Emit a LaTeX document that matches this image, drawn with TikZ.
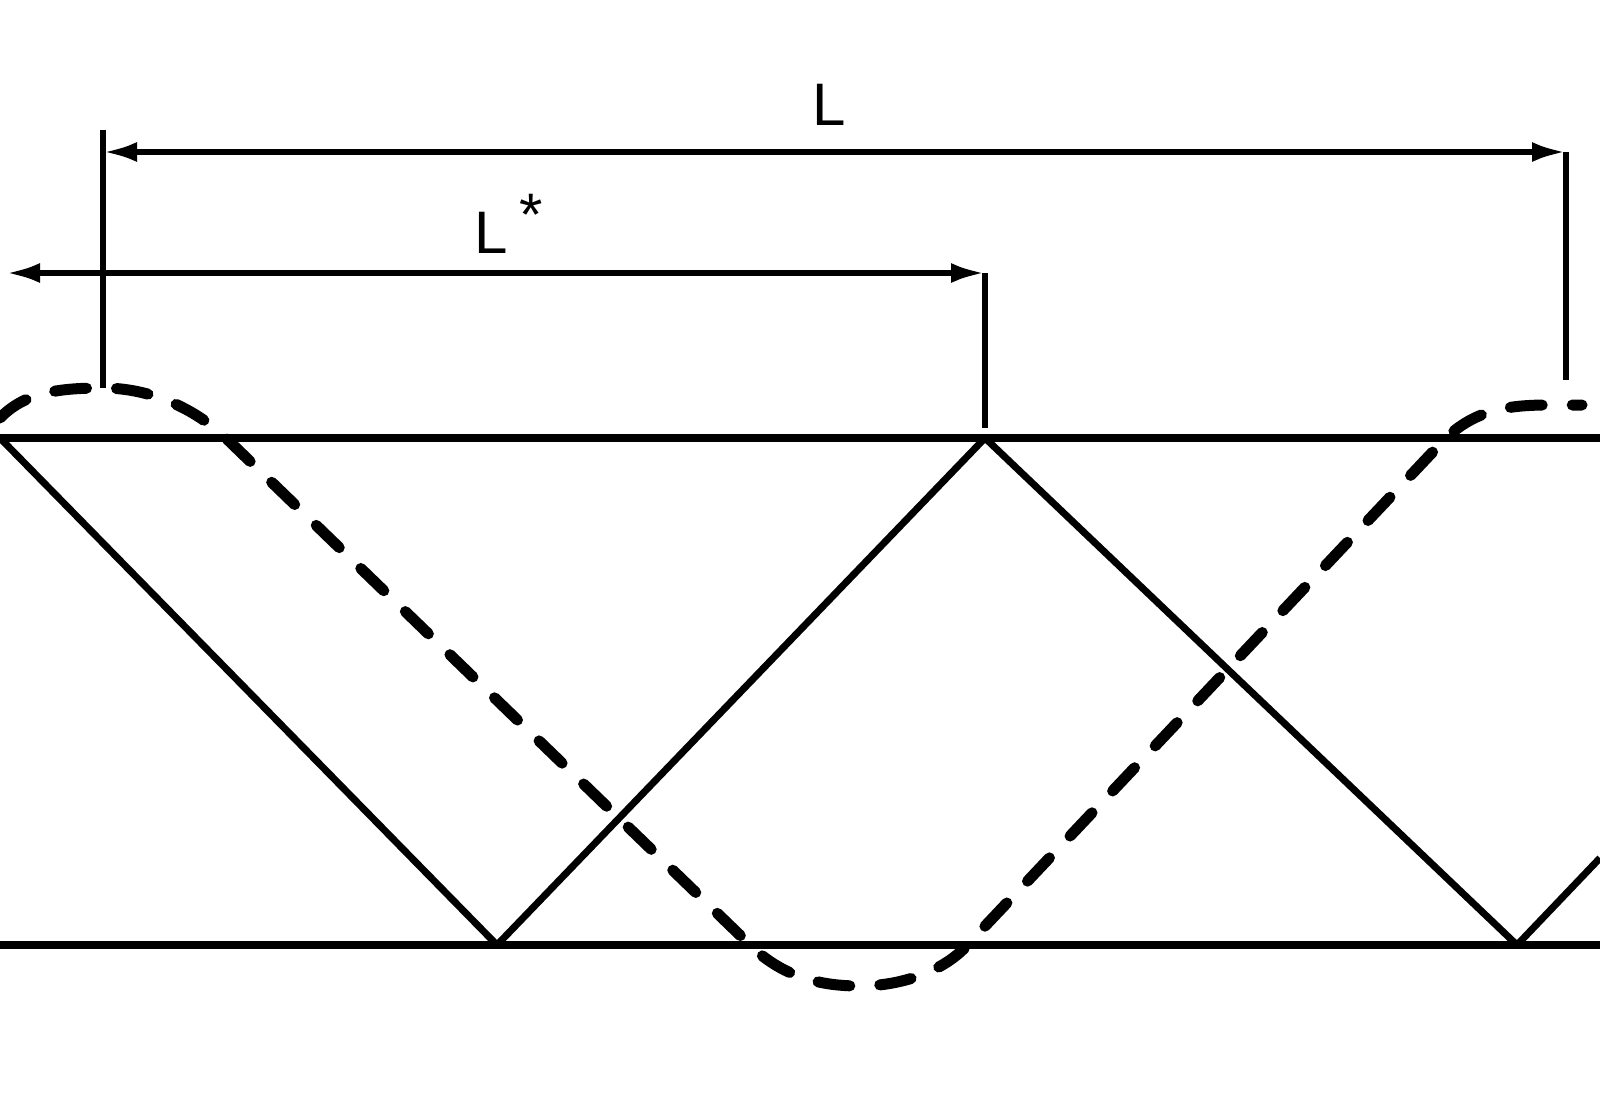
\documentclass[tikz,border=0pt]{standalone}
\usepackage{fontspec}
\setmainfont{Liberation Sans}
\usetikzlibrary{arrows.meta}
\begin{document}
\begin{tikzpicture}[x=0.5pt,y=-0.5pt,
  boundary/.style={line width=4pt},
  ray/.style={line width=3.5pt, line join=round},
  shiftray/.style={line width=5.5pt, line cap=round, line join=round, dash pattern=on 16pt off 15pt},
  dimline/.style={line width=3pt},
  dimtips/.style={{Latex[length=17pt,width=10pt]}-{Latex[length=17pt,width=10pt]}},
  lbl/.style={anchor=base west, inner sep=0pt, font=\fontsize{30}{36}\selectfont}]
\useasboundingbox (0,0) rectangle (1600,1099);
% boundaries
\coordinate (tl) at (0,438);   \coordinate (tr) at (1600,438);
\coordinate (bl) at (0,945);   \coordinate (br) at (1600,945);
\draw[boundary] (tl) -- (tr);
\draw[boundary] (bl) -- (br);
% geometric ray (solid)
\coordinate (s0) at (0,438);
\coordinate (s1) at (497,945);
\coordinate (s2) at (985,438);
\coordinate (s3) at (1517,945);
\coordinate (s4) at (1600,858);
\draw[ray] (s0) -- (s1) -- (s2) -- (s3) -- (s4);
% shifted ray (dashed)
\coordinate (d0) at (0,418);
\coordinate (dtop1) at (103,388);
\coordinate (d1) at (228,440);
\coordinate (d2) at (747,942);
\coordinate (dbot) at (860,986);
\coordinate (d3) at (970,942);
\coordinate (d4) at (1444,440);
\coordinate (dtop2) at (1548,405);
\coordinate (d5) at (1582,405);
\draw[shiftray] (d0) .. controls (25,392) and (60,388) .. (dtop1)
  .. controls (150,388) and (195,408) .. (d1) -- (d2)
  .. controls (782,978) and (822,986) .. (dbot)
  .. controls (900,986) and (945,972) .. (d3) -- (d4)
  .. controls (1474,410) and (1508,405) .. (dtop2) -- (d5);
% dimension L
\coordinate (La) at (103,152);
\coordinate (Lb) at (1566,152);
\coordinate (Lat) at (103,130);
\coordinate (Lab) at (103,388);
\coordinate (Lbb) at (1566,380);
\draw[dimline] (Lat) -- (Lab);
\draw[dimline] (Lb) -- (Lbb);
\draw[dimline, dimtips] (La) -- (Lb);
\node[lbl] (Llabel) at (812,125) {L};
% dimension L*
\coordinate (Sa) at (6,273);
\coordinate (Sb) at (985,273);
\coordinate (Sbb) at (985,428);
\draw[dimline] (Sb) -- (Sbb);
\draw[dimline, dimtips] (Sa) -- (Sb);
\node[lbl] (Slabel) at (474,253) {L\kern6pt\raisebox{9pt}{*}};
\end{tikzpicture}
\end{document}
